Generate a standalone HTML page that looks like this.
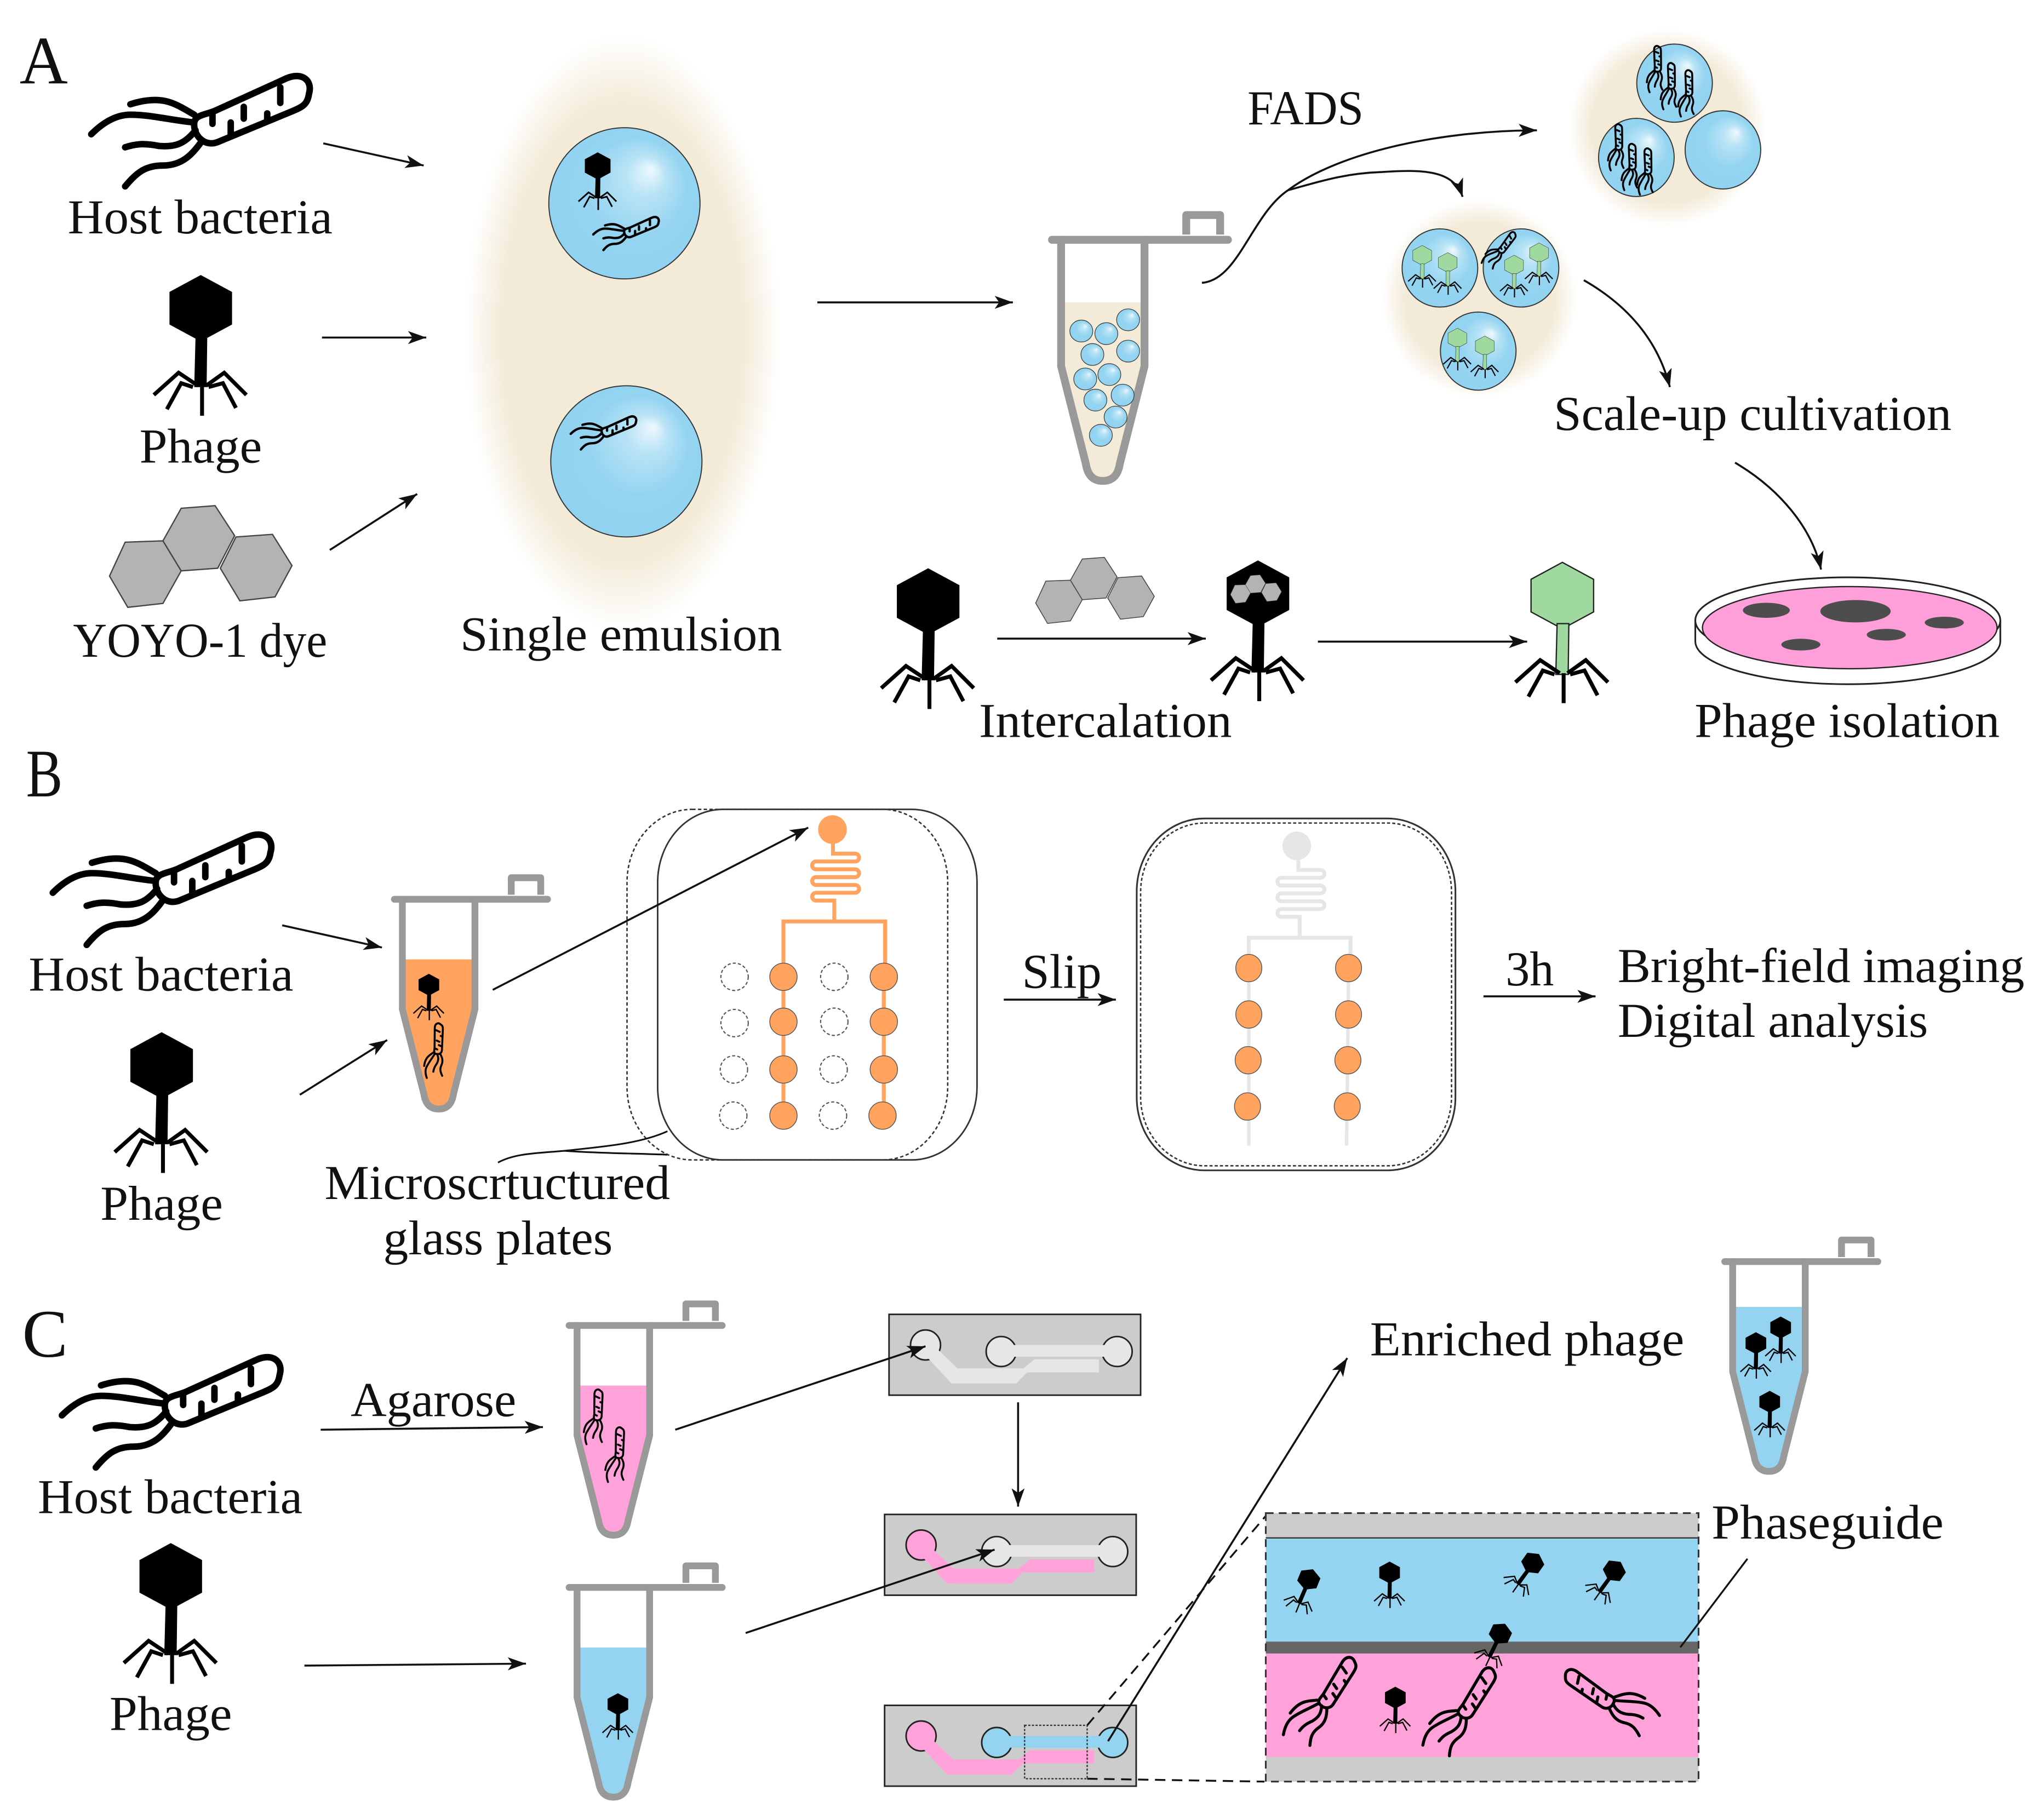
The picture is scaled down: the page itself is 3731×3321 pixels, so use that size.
<!DOCTYPE html>
<html><head><meta charset="utf-8"><style>
html,body{margin:0;padding:0;background:#fff}
svg{display:block}
text{font-family:"Liberation Serif",serif;font-size:37.5px;fill:#111}
.l{font-size:52px}
.a{fill:none;stroke:#111;stroke-width:1.5;marker-end:url(#ah)}
.d{fill:url(#dg);stroke:#333;stroke-width:.8}
.s{fill:url(#dg);stroke:#333;stroke-width:.5}
.c{fill:#ccc;stroke:#222;stroke-width:1.2}
.o{fill:#ffa35f;stroke:#555;stroke-width:.6}
.e{fill:none;stroke:#555;stroke-width:.9;stroke-dasharray:2.4 1.6}
.k{stroke:#222;stroke-width:1.2}
.bw{stroke-width:var(--w,5)}
.tw{stroke-width:var(--w,5)}
</style></head><body>
<svg xmlns="http://www.w3.org/2000/svg" width="3731" height="3321" viewBox="0 0 1568 1395.7">
<defs>
<marker id="ah" markerUnits="userSpaceOnUse" markerWidth="15" markerHeight="11" refX="14" refY="5" orient="auto"><path d="M0,0L14,5L0,10L3.5,5Z" fill="#111"/></marker>
<radialGradient id="dg" cx=".5" cy=".5" r=".6" fx=".68" fy=".27"><stop offset="0" stop-color="#eef9fd"/><stop offset=".22" stop-color="#b8e3f5"/><stop offset=".55" stop-color="#94d4f1"/><stop offset="1" stop-color="#8fd2f0"/></radialGradient>
<radialGradient id="hg"><stop offset="0" stop-color="#f3ebd8"/><stop offset=".76" stop-color="#f3ebd8"/><stop offset="1" stop-color="#f3ebd8" stop-opacity="0"/></radialGradient>
<g id="bact" class="bw" fill="none" stroke="#000" stroke-linecap="round"><g transform="translate(-153,-100)">
<path d="M149,94C150,88 158,88 165,85L220,60C232,55 240,62 237,72C236,80 232,82 225,85L167,109C157,113 148,104 149,94Z"/>
<path class="tw" d="M163,87V95M187,82V91M215,67V79M177,94V104M205,87V93"/>
<path d="M149,88C135,80 125,72 100,80M149,94C130,92 115,88 100,88C88,88 78,95 70,103M150,100C142,110 135,113 122,112C112,110 105,110 96,113M155,108C148,118 140,127 125,127C112,127 105,132 96,143"/>
</g></g>
<g id="phage"><g transform="translate(-154,-265)">
<polygon points="154,211 178,224 178,249 154,262 130,249 130,224"/>
<polygon points="150,258 159,258 158.5,297 149,297"/>
<path d="M152,296L137,286L118,303M148,297L139,294L128,314M158,296L172,286L189,303M160,297L171,294L181,313M155,296V319" fill="none" stroke="#000" stroke-width="3"/>
</g></g>
<g id="dye" fill="#b3b3b3" stroke="#444" stroke-width="1"><g transform="translate(-154,-427)">
<polygon points="84,442 96,416 125,415 139,438 125,463 98,466"/>
<polygon points="169,436 181,412 209,410 224,434 211,458 184,461"/>
<polygon points="125,415 139,390 165,388 180,411 167,436 139,438"/>
</g></g>
<g id="tube" fill="none" stroke="#999" stroke-width="6" stroke-linejoin="round" stroke-linecap="round">
<path d="M-39,0H96"/><path d="M64,-4V-19H90V-4" stroke-linecap="butt"/>
<path d="M-32,0V97L-13,172Q-11,185 0,185Q11,185 13,172L32,97V0"/>
</g>
<clipPath id="tc"><path d="M-32,0V97L-13,172Q-11,185 0,185Q11,185 13,172L32,97V0Z"/></clipPath>
<g id="net" fill="none" stroke-width="3"><path d="M639,647V655H656a3,3 0 0 1 0,6H626a3,3 0 0 0 0,6H656a3,3 0 0 1 0,6H626a3,3 0 0 0 0,6H656a3,3 0 0 1 0,6H626a3,3 0 0 0 0,6H640V707"/><path d="M601,740V707H679V740"/></g>
</defs>
<rect width="1568" height="1395.7" fill="#fff"/>

<!-- A -->
<text class="l" x="15" y="64" textLength="37" lengthAdjust="spacingAndGlyphs">A</text>
<use href="#bact" transform="translate(153,100)"/>
<text x="52" y="179" textLength="203" lengthAdjust="spacingAndGlyphs">Host bacteria</text>
<use href="#phage" transform="translate(154,265)"/>
<text x="107" y="355" textLength="94" lengthAdjust="spacingAndGlyphs">Phage</text>
<use href="#dye" transform="translate(154,427)"/>
<text x="56" y="504" textLength="195" lengthAdjust="spacingAndGlyphs">YOYO-1 dye</text>
<path class="a" d="M248,110L325,127"/><path class="a" d="M247,259H327"/><path class="a" d="M253,422L320,379"/>
<ellipse cx="477.5" cy="255" rx="121" ry="229" fill="url(#hg)"/>
<ellipse class="d" cx="479" cy="156" rx="58" ry="58"/>
<ellipse class="d" cx="480.5" cy="354" rx="58" ry="58"/>
<use href="#phage" transform="translate(458.5,139) scale(.41)"/>
<use href="#bact" transform="translate(480,179) scale(.3)" style="--w:6"/>
<use href="#bact" transform="translate(462.7,332) scale(.3)" style="--w:6"/>
<text x="353" y="499" textLength="247" lengthAdjust="spacingAndGlyphs">Single emulsion</text>
<path class="a" d="M627,232H777"/>

<g transform="translate(846,184)"><g clip-path="url(#tc)"><rect x="-40" y="48" width="80" height="145" fill="#f3ebd8"/></g><use href="#tube"/></g>
<g class="s">
<ellipse cx="829.5" cy="254" rx="8.8" ry="8.4"/><ellipse cx="848.7" cy="256" rx="8.8" ry="8.4"/><ellipse cx="865.4" cy="245.4" rx="8.8" ry="8.4"/><ellipse cx="838" cy="272" rx="8.8" ry="8.4"/><ellipse cx="865.4" cy="269.4" rx="8.8" ry="8.4"/><ellipse cx="832.5" cy="290.8" rx="8.8" ry="8.4"/><ellipse cx="851" cy="287.4" rx="8.8" ry="8.4"/><ellipse cx="840.3" cy="307" rx="8.8" ry="8.4"/><ellipse cx="861.2" cy="303.2" rx="8.8" ry="8.4"/><ellipse cx="855.8" cy="320" rx="8.8" ry="8.4"/><ellipse cx="844.5" cy="334" rx="8.8" ry="8.4"/>
</g>

<path class="a" d="M922,217C950,215 960,165 988,146C1030,115 1110,100 1179,100"/>
<path class="a" d="M988,146C1010,140 1030,133 1060,132C1090,130 1115,130 1122,151"/>
<text x="957" y="95.5" textLength="89" lengthAdjust="spacingAndGlyphs">FADS</text>

<ellipse cx="1279" cy="98" rx="76" ry="76" fill="url(#hg)"/>
<ellipse class="d" cx="1284.6" cy="63.8" rx="29" ry="30"/>
<ellipse class="d" cx="1255.3" cy="120.8" rx="29" ry="30"/>
<ellipse class="d" cx="1321.7" cy="115" rx="29" ry="30"/>
<g style="--w:7">
<use href="#bact" transform="translate(1271.4,54.4) rotate(-68) scale(.21)"/>
<use href="#bact" transform="translate(1282,67.5) rotate(-68) scale(.21)"/>
<use href="#bact" transform="translate(1295.4,73) rotate(-68) scale(.21)"/>
<use href="#bact" transform="translate(1241.6,114.4) rotate(-68) scale(.21)"/>
<use href="#bact" transform="translate(1252,129.5) rotate(-68) scale(.21)"/>
<use href="#bact" transform="translate(1264,133) rotate(-68) scale(.21)"/>
</g>

<ellipse cx="1135" cy="229" rx="75" ry="76" fill="url(#hg)"/>
<ellipse class="d" cx="1104.6" cy="205.6" rx="29" ry="30"/>
<ellipse class="d" cx="1166.8" cy="205.6" rx="29" ry="30"/>
<ellipse class="d" cx="1134" cy="269.4" rx="29" ry="30"/>
<g fill="#9fd99f" stroke="#222" stroke-width=".8">
<use href="#phage" transform="translate(1091,204.5) scale(.3)"/>
<use href="#phage" transform="translate(1110.6,210) scale(.3)"/>
<use href="#phage" transform="translate(1161.5,212) scale(.3)"/>
<use href="#phage" transform="translate(1180.6,202.6) scale(.3)"/>
<use href="#phage" transform="translate(1118,268) scale(.3)"/>
<use href="#phage" transform="translate(1139,274) scale(.3)"/>
</g>
<use href="#bact" transform="translate(1150.7,193) rotate(-30) scale(.2)" style="--w:7"/>

<path class="a" d="M1215,215C1250,235 1272,262 1281,297"/>
<text x="1192" y="330" textLength="305" lengthAdjust="spacingAndGlyphs">Scale-up cultivation</text>
<path class="a" d="M1331,355C1365,375 1390,405 1397,437"/>

<use href="#phage" transform="translate(712,490)"/>
<use href="#dye" transform="translate(840,453) scale(.65)"/>
<path class="a" d="M765,490H925"/>
<use href="#phage" transform="translate(965,484)"/>
<use href="#dye" transform="translate(963.5,452) scale(.28)"/>
<path class="a" d="M1011,492.3H1171.5"/>
<use href="#phage" transform="translate(1198.5,485.5)" fill="#9fd99f" stroke="#222" stroke-width="1"/>
<text x="751" y="565.5" textLength="194" lengthAdjust="spacingAndGlyphs">Intercalation</text>

<path d="M1300.5,476V492A117,33 0 0 0 1534.5,492V476" fill="#fff" stroke="#222" stroke-width="1.3"/>
<ellipse cx="1417.5" cy="476" rx="117" ry="33" fill="#fff" stroke="#222" stroke-width="1.3"/>
<ellipse cx="1419" cy="481.6" rx="113" ry="31.5" fill="#ff9fd9" stroke="#222" stroke-width="1"/>
<g fill="#4d4d4d"><ellipse cx="1355" cy="468.3" rx="18" ry="5.8"/><ellipse cx="1423.4" cy="469" rx="27" ry="8.6"/><ellipse cx="1491.5" cy="477.7" rx="15" ry="4.5"/><ellipse cx="1447" cy="487" rx="15" ry="4.5"/><ellipse cx="1381.5" cy="494.6" rx="15" ry="4.5"/></g>
<text x="1300" y="565.5" textLength="234" lengthAdjust="spacingAndGlyphs">Phage isolation</text>

<!-- B -->
<text class="l" x="20" y="611" textLength="28" lengthAdjust="spacingAndGlyphs">B</text>
<use href="#bact" transform="translate(123.5,682)"/>
<text x="22" y="760" textLength="203" lengthAdjust="spacingAndGlyphs">Host bacteria</text>
<use href="#phage" transform="translate(124,846)"/>
<text x="77" y="936" textLength="94" lengthAdjust="spacingAndGlyphs">Phage</text>
<path class="a" d="M216.5,710L293,727"/><path class="a" d="M230,840L297,798"/>
<g transform="translate(336.5,690) scale(.87)"><g clip-path="url(#tc)"><rect x="-40" y="53" width="80" height="140" fill="#ffa35f"/></g><use href="#tube"/></g>
<use href="#phage" transform="translate(329,765) scale(.33)"/>
<use href="#bact" transform="translate(335.5,808) rotate(-65) scale(.25)" style="--w:6"/>

<rect x="504.5" y="621" width="245" height="269" rx="50" ry="56" fill="none" stroke="#333" stroke-width="1.2"/>
<rect x="481" y="621" width="246" height="269" rx="50" ry="56" fill="none" stroke="#333" stroke-width="1.1" stroke-dasharray="2.6 1.8"/>
<use href="#net" stroke="#ffa35f"/>
<circle cx="638.6" cy="636.5" r="11" fill="#ffa35f"/>
<path d="M601,740V856M678,740V856" stroke="#ffa35f" stroke-width="3" fill="none"/>
<g class="o">
<circle cx="601" cy="749.5" r="10.5"/><circle cx="601" cy="784" r="10.5"/><circle cx="601" cy="820.6" r="10.5"/><circle cx="601" cy="856" r="10.5"/>
<circle cx="678" cy="749.5" r="10.5"/><circle cx="678" cy="784" r="10.5"/><circle cx="678" cy="820.6" r="10.5"/><circle cx="677" cy="856" r="10.5"/>
</g>
<g class="e">
<circle cx="563.5" cy="749.5" r="10.5"/><circle cx="563.5" cy="785" r="10.5"/><circle cx="563" cy="820.6" r="10.5"/><circle cx="562.5" cy="856" r="10.5"/>
<circle cx="640" cy="749.5" r="10.5"/><circle cx="640" cy="784" r="10.5"/><circle cx="639.5" cy="820.6" r="10.5"/><circle cx="639" cy="856" r="10.5"/>
</g>
<path class="a" d="M378,759.5L620,635"/>
<path d="M382,892C395,885 410,885 433,883C460,880 490,878 512,868M433,883C460,885 490,885 512,886" fill="none" stroke="#111" stroke-width="1.3"/>
<text x="249" y="920" textLength="265" lengthAdjust="spacingAndGlyphs">Microscrtuctured</text>
<text x="294" y="962.5" textLength="176" lengthAdjust="spacingAndGlyphs">glass plates</text>

<text x="784" y="758" textLength="61" lengthAdjust="spacingAndGlyphs">Slip</text>
<path class="a" d="M770,767H856"/>
<rect x="872" y="628" width="244.5" height="270" rx="52" ry="56" fill="none" stroke="#333" stroke-width="1.3"/>
<rect x="875" y="631.5" width="238.5" height="263" rx="49" ry="53" fill="none" stroke="#333" stroke-width="1.1" stroke-dasharray="2.4 1.6"/>
<use href="#net" stroke="#e6e6e6" transform="translate(357,12.5)"/>
<circle cx="994.8" cy="649" r="11" fill="#e6e6e6"/>
<path d="M958,752V879M1034.5,752L1033,879" stroke="#e6e6e6" stroke-width="2.6" fill="none"/>
<g class="o">
<ellipse cx="958" cy="742.8" rx="10" ry="10.5"/><ellipse cx="958" cy="778.4" rx="10" ry="10.5"/><ellipse cx="957.5" cy="813.5" rx="10" ry="10.5"/><ellipse cx="957" cy="849" rx="10" ry="10.5"/>
<ellipse cx="1034.5" cy="742.8" rx="10" ry="10.5"/><ellipse cx="1034.5" cy="778.4" rx="10" ry="10.5"/><ellipse cx="1034" cy="813.5" rx="10" ry="10.5"/><ellipse cx="1033.5" cy="849" rx="10" ry="10.5"/>
</g>
<text x="1155" y="756" textLength="37" lengthAdjust="spacingAndGlyphs">3h</text>
<path class="a" d="M1138,764.5H1224"/>
<text x="1241" y="753.5" textLength="312" lengthAdjust="spacingAndGlyphs">Bright-field imaging</text>
<text x="1241" y="795.5" textLength="238" lengthAdjust="spacingAndGlyphs">Digital analysis</text>

<!-- C -->
<text class="l" x="17" y="1041" textLength="35" lengthAdjust="spacingAndGlyphs">C</text>
<use href="#bact" transform="translate(130.5,1083)"/>
<text x="29" y="1161" textLength="203" lengthAdjust="spacingAndGlyphs">Host bacteria</text>
<use href="#phage" transform="translate(131,1238)"/>
<text x="84" y="1327.5" textLength="94" lengthAdjust="spacingAndGlyphs">Phage</text>
<text x="269" y="1086.5" textLength="127" lengthAdjust="spacingAndGlyphs">Agarose</text>
<path class="a" d="M246,1097L416.5,1095"/>
<path class="a" d="M233.5,1278L403.5,1276.5"/>
<g transform="translate(470.5,1017) scale(.87)"><g clip-path="url(#tc)"><rect x="-40" y="53" width="80" height="140" fill="#ffa2d9"/></g><use href="#tube"/></g>
<use href="#bact" transform="translate(458,1089) rotate(-65) scale(.25)" style="--w:6"/>
<use href="#bact" transform="translate(474.5,1118) rotate(-65) scale(.25)" style="--w:6"/>
<g transform="translate(470.5,1218) scale(.87)"><g clip-path="url(#tc)"><rect x="-40" y="53" width="80" height="140" fill="#94d4f1"/></g><use href="#tube"/></g>
<use href="#phage" transform="translate(474,1317) scale(.33)"/>

<!-- chip 1 -->
<rect class="c" x="682" y="1008.5" width="193" height="62"/>
<ellipse class="k" cx="710" cy="1032" rx="11.5" ry="11.5" fill="#e6e6e6"/>
<ellipse class="k" cx="768" cy="1037" rx="11.5" ry="11.5" fill="#e6e6e6"/>
<ellipse class="k" cx="857" cy="1037" rx="11.5" ry="11.5" fill="#e6e6e6"/>
<polygon fill="#e6e6e6" points="717.6,1033.7 734.5,1050 785,1050 793.5,1043 843,1043 843,1053 788,1053 779.5,1061.6 730,1061.6 710,1040"/>
<rect x="772" y="1032" width="80" height="9" fill="#e6e6e6"/>
<!-- chip 2 -->
<g transform="translate(-3.4,153.5)">
<rect class="c" x="682" y="1008.5" width="193" height="62"/>
<ellipse class="k" cx="710" cy="1032" rx="11.5" ry="11.5" fill="#ffa2d9"/>
<ellipse class="k" cx="768" cy="1037" rx="11.5" ry="11.5" fill="#e6e6e6"/>
<ellipse class="k" cx="857" cy="1037" rx="11.5" ry="11.5" fill="#e6e6e6"/>
<polygon fill="#ffa2d9" points="717.6,1033.7 734.5,1050 785,1050 793.5,1043 843,1043 843,1053 788,1053 779.5,1061.6 730,1061.6 710,1040"/>
<rect x="772" y="1032" width="80" height="9" fill="#e6e6e6"/>
</g>
<!-- chip 3 -->
<g transform="translate(-3.4,300)">
<rect class="c" x="682" y="1008.5" width="193" height="62"/>
<ellipse class="k" cx="710" cy="1032" rx="11.5" ry="11.5" fill="#ffa2d9"/>
<ellipse class="k" cx="768" cy="1037" rx="11.5" ry="11.5" fill="#94d4f1"/>
<ellipse class="k" cx="857" cy="1037" rx="11.5" ry="11.5" fill="#94d4f1"/>
<polygon fill="#ffa2d9" points="717.6,1033.7 734.5,1050 785,1050 793.5,1043 843,1043 843,1053 788,1053 779.5,1061.6 730,1061.6 710,1040"/>
<rect x="772" y="1032" width="80" height="9" fill="#94d4f1"/>
</g>
<rect x="786" y="1323.8" width="48" height="41" fill="none" stroke="#333" stroke-width="1" stroke-dasharray="1.6 1.2"/>
<path class="a" d="M518,1097L710,1033"/>
<path class="a" d="M781,1076V1156"/>
<path class="a" d="M572,1253L763,1189"/>
<path class="a" d="M850,1336L1033.5,1042"/>
<path d="M834,1323.8L972,1162M834,1364.8L970,1367" fill="none" stroke="#111" stroke-width="1.4" stroke-dasharray="8 5"/>
<text x="1051" y="1040" textLength="241" lengthAdjust="spacingAndGlyphs">Enriched phage</text>

<g transform="translate(1357,968) scale(.87)"><g clip-path="url(#tc)"><rect x="-40" y="40" width="80" height="155" fill="#94d4f1"/></g><use href="#tube"/></g>
<use href="#phage" transform="translate(1347,1040) scale(.33)"/>
<use href="#phage" transform="translate(1366,1028) scale(.33)"/>
<use href="#phage" transform="translate(1357.6,1085) scale(.33)"/>

<!-- inset -->
<rect x="971" y="1161" width="332" height="19.5" fill="#ccc"/>
<rect x="971" y="1180" width="332" height="80" fill="#94d4f1"/>
<rect x="971" y="1259.6" width="332" height="9.2" fill="#666"/>
<rect x="971" y="1268.7" width="332" height="79.5" fill="#ffa2d9"/>
<rect x="971" y="1348" width="332" height="19" fill="#ccc"/>
<path d="M971,1180H1303" stroke="#333" stroke-width="1" fill="none"/>
<rect x="971" y="1161" width="332" height="206" fill="none" stroke="#333" stroke-width="1.3" stroke-dasharray="6 4"/>
<use href="#phage" transform="translate(1000.5,1220.6) rotate(22) scale(.33)"/>
<use href="#phage" transform="translate(1066,1216) scale(.33)"/>
<use href="#phage" transform="translate(1170.4,1207) rotate(35) scale(.33)"/>
<use href="#phage" transform="translate(1233,1213) rotate(35) scale(.33)"/>
<use href="#phage" transform="translate(1147,1262) rotate(25) scale(.33)"/>
<use href="#phage" transform="translate(1070.4,1312) scale(.33)"/>
<use href="#bact" transform="translate(1015,1308) rotate(-35) scale(.46)"/>
<use href="#bact" transform="translate(1122,1316) rotate(-35) scale(.46)"/>
<use href="#bact" transform="translate(1236,1307) rotate(12) scale(-.46,.46)"/>
<path d="M1340.5,1196L1289,1264" fill="none" stroke="#111" stroke-width="1.4"/>
<text x="1313" y="1180.5" textLength="178" lengthAdjust="spacingAndGlyphs">Phaseguide</text>
</svg>
</body></html>
